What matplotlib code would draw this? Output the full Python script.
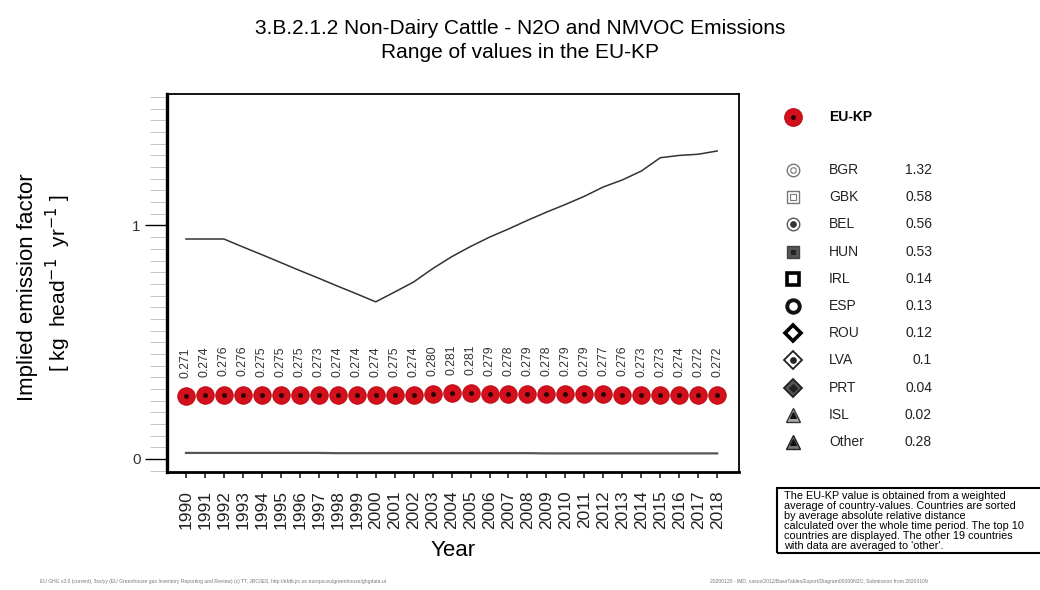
import matplotlib
matplotlib.use("Agg")
import matplotlib.pyplot as plt
from matplotlib.ticker import MultipleLocator
from matplotlib.patches import Rectangle

plt.rcParams['font.family'] = ['Liberation Sans', 'DejaVu Sans']

# ---------------- data ----------------
years = list(range(1990, 2019))
eu_kp = [0.271, 0.274, 0.276, 0.276, 0.275, 0.275, 0.275, 0.273, 0.274, 0.274,
         0.274, 0.275, 0.274, 0.280, 0.281, 0.281, 0.279, 0.278, 0.279, 0.278,
         0.279, 0.279, 0.277, 0.276, 0.273, 0.273, 0.274, 0.272, 0.272]
max_line = [0.942, 0.942, 0.942, 0.908, 0.875, 0.841, 0.807, 0.774, 0.740, 0.707,
            0.673, 0.715, 0.758, 0.815, 0.866, 0.910, 0.950, 0.985, 1.022, 1.057,
            1.090, 1.125, 1.165, 1.195, 1.233, 1.290, 1.300, 1.305, 1.319]
min_line = [0.026, 0.026, 0.026, 0.026, 0.026, 0.026, 0.026, 0.026, 0.025, 0.025,
            0.025, 0.025, 0.025, 0.025, 0.025, 0.025, 0.025, 0.025, 0.025, 0.024,
            0.024, 0.024, 0.024, 0.024, 0.024, 0.024, 0.024, 0.024, 0.024]
legend_countries = ['BGR', 'GBK', 'BEL', 'HUN', 'IRL', 'ESP', 'ROU', 'LVA', 'PRT', 'ISL', 'Other']
legend_values = ['1.32', '0.58', '0.56', '0.53', '0.14', '0.13', '0.12', '0.1', '0.04', '0.02', '0.28']

title_lines = ["3.B.2.1.2 Non-Dairy Cattle - N2O and NMVOC Emissions",
               "Range of values in the EU-KP"]
note_text = ("The EU-KP value is obtained from a weighted\n"
             "average of country-values. Countries are sorted\n"
             "by average absolute relative distance\n"
             "calculated over the whole time period. The top 10\n"
             "countries are displayed. The other 19 countries\n"
             "with data are averaged to 'other'.")

W, H = 1040, 590
fig = plt.figure(figsize=(W / 100, H / 100), dpi=100)

def fx(px):
    return px / W

def fy(py):
    return 1 - py / H

ax = fig.add_axes([fx(167), fy(472), fx(739) - fx(167), fy(94) - fy(472)])
ax.set_xlim(1989.0, 2019.15)
ax.set_ylim(-0.0557, 1.563)

ax.plot(years, max_line, color='#333333', lw=1.1, zorder=2)
ax.plot(years, min_line, color='#555555', lw=1.6, zorder=2)
ax.plot(years, eu_kp, linestyle='none', marker='o', markersize=12.5,
        markerfacecolor='#d4101c', markeredgecolor='#c00c18', markeredgewidth=0.8, zorder=3)
ax.plot(years, eu_kp, linestyle='none', marker='o', markersize=2.5,
        markerfacecolor='#2a0505', markeredgecolor='#2a0505', zorder=4)

for x, v in zip(years, eu_kp):
    ax.annotate(f"{v:.3f}", xy=(x, v), xytext=(0, 13), textcoords='offset points',
                rotation=90, ha='center', va='bottom', fontsize=8.8, color='#333333')

ax.set_xticks(years)
ax.set_xticklabels([str(y) for y in years], rotation=90, fontsize=12.5)
ax.tick_params(axis='x', direction='out', length=4, width=1.2, pad=9, colors='#222222')
ax.set_yticks([0, 1])
ax.set_yticklabels(['0', '1'], fontsize=11, color='#333333')
ax.yaxis.set_minor_locator(MultipleLocator(0.05))
ax.tick_params(axis='y', which='major', direction='out', length=16, width=1.0, pad=3)
ax.tick_params(axis='y', which='minor', direction='out', length=12, width=0.6, colors='#bbbbbb')

for s in ['top', 'right']:
    ax.spines[s].set_linewidth(1.3)
ax.spines['left'].set_linewidth(2.4)
ax.spines['bottom'].set_linewidth(2.0)

ax.set_xlabel("Year", fontsize=16, labelpad=8)

# y label (two lines)
fig.text(fx(28), fy(287), "Implied emission factor", rotation=90, ha='center', va='center', fontsize=16)
fig.text(fx(58), fy(283), r"[ kg  head$^{-1}$  yr$^{-1}$ ]", rotation=90, ha='center', va='center', fontsize=15)

# title
fig.text(0.5, fy(28), title_lines[0], ha='center', va='center', fontsize=15)
fig.text(0.5, fy(52), title_lines[1], ha='center', va='center', fontsize=15)

# legend area
lax = fig.add_axes([fx(770), fy(470), fx(1000) - fx(770), fy(90) - fy(470)])
lax.set_xlim(770, 1000)
lax.set_ylim(470, 90)
lax.axis('off')

lax.plot([793], [117], marker='o', markersize=12.5, markerfacecolor='#d4101c',
         markeredgecolor='#c00c18', linestyle='none')
lax.plot([793], [117], marker='o', markersize=2.5, color='#2a0505', linestyle='none')
lax.text(829, 117, "EU-KP", fontsize=10, fontweight='bold', va='center', ha='left')

styles = [
    # (marker, size, face, edge, ew, inner_marker, inner_size, inner_face, inner_edge)
    ('o', 9, 'white', '#777777', 1.0, 'o', 4, 'white', '#777777'),
    ('s', 8.5, 'white', '#777777', 1.0, 's', 4, 'white', '#777777'),
    ('o', 9, 'white', '#555555', 1.0, 'o', 4, '#333333', '#333333'),
    ('s', 8.5, '#555555', '#444444', 1.0, 's', 3.5, '#222222', '#222222'),
    ('s', 8.5, 'white', '#000000', 2.6, None, 0, None, None),
    ('o', 9, 'white', '#111111', 2.8, None, 0, None, None),
    ('D', 8.5, 'white', '#000000', 2.6, None, 0, None, None),
    ('D', 9, 'white', '#222222', 1.3, 'o', 4, '#222222', '#222222'),
    ('D', 9, '#555555', '#222222', 1.3, 'D', 4, '#222222', '#222222'),
    ('^', 9.5, '#aaaaaa', '#333333', 1.0, '^', 4.5, '#111111', '#111111'),
    ('^', 9.5, '#777777', '#222222', 1.0, '^', 4.5, '#111111', '#111111'),
]
for i, (name, val) in enumerate(zip(legend_countries, legend_values)):
    yy = 170 + i * 27.2
    m, ms, fc, ec, ew, im, ims, ifc, iec = styles[i]
    lax.plot([793], [yy], marker=m, markersize=ms, markerfacecolor=fc,
             markeredgecolor=ec, markeredgewidth=ew, linestyle='none')
    if im:
        lax.plot([793], [yy], marker=im, markersize=ims, markerfacecolor=ifc,
                 markeredgecolor=iec, markeredgewidth=0.8, linestyle='none')
    lax.text(829, yy, name, fontsize=10, va='center', ha='left', color='#222222')
    lax.text(932, yy, val, fontsize=10, va='center', ha='right', color='#222222')

# note box
fig.patches.append(Rectangle((fx(777), fy(553)), fx(1050) - fx(777), fy(488) - fy(553),
                             transform=fig.transFigure, fill=False, edgecolor='black',
                             linewidth=1.5, clip_on=False))
fig.text(fx(784), fy(491), note_text, ha='left', va='top', fontsize=7.8, linespacing=1.0)

# footer
fig.text(fx(40), fy(581), "EU GHG v3.0 (current), 3xx/yy (EU Greenhouse gas Inventory Reporting and Review) (c) TT, JRC/IES, http://efdb.jrc.ec.europa.eu/greenhouse/ghgdata.ut",
         fontsize=3.6, color='#777777', va='center', ha='left')
fig.text(fx(710), fy(581), "20200120 - IMD, casus/2012/BaseTables/Export/Diagram00000N2O, Submission from 20200109",
         fontsize=3.6, color='#777777', va='center', ha='left')

fig.savefig("out.png", dpi=100)
